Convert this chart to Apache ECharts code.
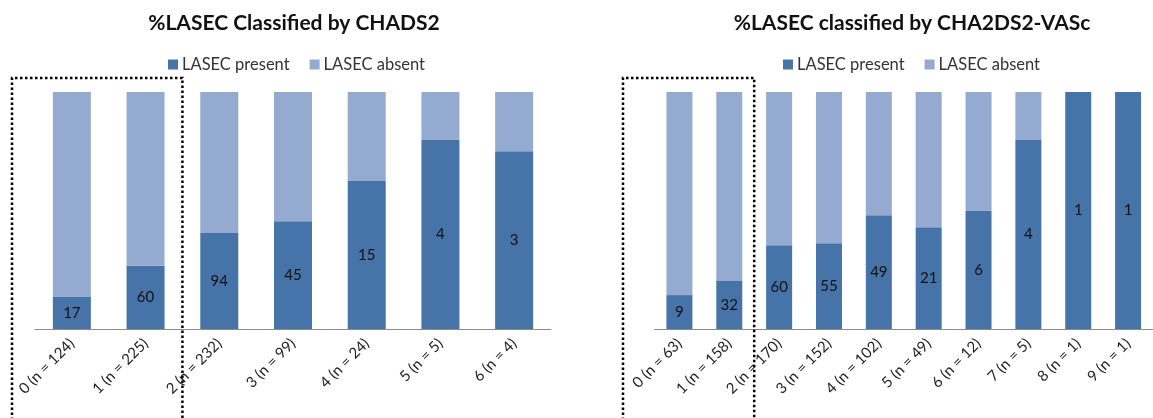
<!DOCTYPE html>
<html>
<head>
<meta charset="utf-8">
<script src="https://cdn.jsdelivr.net/npm/echarts@6/dist/echarts.min.js"></script>
<style>html,body{margin:0;padding:0;background:#fff}#c{width:1153px;height:418px}</style>
</head>
<body>
<div id="c"></div>
<script>
const titleLeft = '%LASEC Classified by CHADS2';
const titleRight = '%LASEC classified by CHA2DS2-VASc';
const seriesNames = ['LASEC present', 'LASEC absent'];

const catsLeft = ['0 (n = 124)', '1 (n = 225)', '2 (n = 232)', '3 (n = 99)', '4 (n = 24)', '5 (n = 5)', '6 (n = 4)'];
const presentPctLeft = [13.7, 26.7, 40.5, 45.5, 62.5, 80, 75];
const absentPctLeft = [86.3, 73.3, 59.5, 54.5, 37.5, 20, 25];
const presentCountLeft = [17, 60, 94, 45, 15, 4, 3];

const catsRight = ['0 (n = 63)', '1 (n = 158)', '2 (n = 170)', '3 (n = 152)', '4 (n = 102)', '5 (n = 49)', '6 (n = 12)', '7 (n = 5)', '8 (n = 1)', '9 (n = 1)'];
const presentPctRight = [14.3, 20.3, 35.3, 36.2, 48.0, 42.9, 50, 80, 100, 100];
const absentPctRight = [85.7, 79.7, 64.7, 63.8, 52.0, 57.1, 50, 20, 0, 0];
const presentCountRight = [9, 32, 60, 55, 49, 21, 6, 4, 1, 1];

const C_PRESENT = '#4673A8';
const C_ABSENT = '#95AAD0';
const FONT = 'Lato';

const chart = echarts.init(document.getElementById('c'));

function xAxis(idx, cats) {
  return {
    type: 'category', gridIndex: idx, data: cats,
    axisLine: { lineStyle: { color: '#8C8C8C', width: 1 } },
    axisTick: { show: false },
    axisLabel: { rotate: 45, margin: 12, color: '#222', fontFamily: FONT, fontSize: 15, interval: 0 }
  };
}
function yAxis(idx) {
  return { type: 'value', gridIndex: idx, min: 0, max: 100, show: false, splitLine: { show: false } };
}
function barSeries(idx, name, data, color, labels, width, stack) {
  return {
    type: 'bar', name: name, xAxisIndex: idx, yAxisIndex: idx, stack: stack,
    data: data, barWidth: width, itemStyle: { color: color },
    emphasis: { disabled: true },
    label: labels ? {
      show: true, position: 'inside', color: '#111', fontFamily: FONT, fontSize: 15,
      formatter: p => String(labels[p.dataIndex])
    } : { show: false }
  };
}

chart.setOption({
  animation: false,
  title: [
    { text: titleLeft, left: 289, top: 8, textAlign: 'center',
      textStyle: { fontFamily: FONT, fontWeight: 'bold', fontSize: 21, color: '#111' } },
    { text: titleRight, left: 907, top: 8, textAlign: 'center',
      textStyle: { fontFamily: FONT, fontWeight: 'bold', fontSize: 21, color: '#111' } }
  ],
  legend: [
    { left: 163, top: 51, itemWidth: 10, itemHeight: 10, itemGap: 20, icon: 'rect',
      data: seriesNames, textStyle: { fontFamily: FONT, fontSize: 16.5, color: '#333', padding: [0,0,0,-1] } },
    { left: 778, top: 51, itemWidth: 10, itemHeight: 10, itemGap: 20, icon: 'rect',
      data: seriesNames, textStyle: { fontFamily: FONT, fontSize: 16.5, color: '#333', padding: [0,0,0,-1] } }
  ],
  grid: [
    { left: 35, width: 516, top: 92, height: 237 },
    { left: 654.5, width: 510.6, top: 92, height: 237 }
  ],
  xAxis: [xAxis(0, catsLeft), xAxis(1, catsRight)],
  yAxis: [yAxis(0), yAxis(1)],
  series: [
    barSeries(0, seriesNames[0], presentPctLeft, C_PRESENT, presentCountLeft, 38, 'L'),
    barSeries(0, seriesNames[1], absentPctLeft, C_ABSENT, null, 38, 'L'),
    barSeries(1, seriesNames[0], presentPctRight, C_PRESENT, presentCountRight, 26, 'R'),
    barSeries(1, seriesNames[1], absentPctRight, C_ABSENT, null, 26, 'R')
  ]
});

// Dotted boxes around the first two categories of each chart
function boundary(gridIdx, a, b) {
  const pa = chart.convertToPixel({ xAxisIndex: gridIdx }, a);
  const pb = chart.convertToPixel({ xAxisIndex: gridIdx }, b);
  return (pa + pb) / 2;
}
const lx1 = boundary(0, 1, 2);
const rx1 = boundary(1, 1, 2);
const boxTop = 78, boxBottom = 430;
const dash = { stroke: '#000', lineWidth: 2.5, lineDash: [2.5, 2.5], fill: null };
function box(x0, x1) {
  return { type: 'polyline', silent: true, z: 100,
    shape: { points: [[x0, boxBottom], [x0, boxTop], [x1, boxTop], [x1, boxBottom]] },
    style: dash };
}
chart.setOption({ graphic: [ box(12, lx1), box(623, rx1) ] });
</script>
</body>
</html>
